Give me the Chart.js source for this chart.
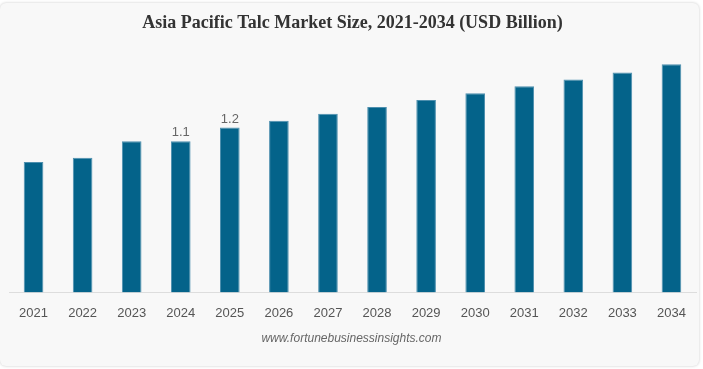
<!DOCTYPE html>
<html>
<head>
<meta charset="utf-8">
<script src="https://cdn.jsdelivr.net/npm/chart.js@4.4.1/dist/chart.umd.min.js"></script>
<style>
  html, body { margin: 0; padding: 0; background: #ffffff; width: 703px; height: 369px; overflow: hidden; }
  #card { position: absolute; left: 0; top: 3px; width: 699px; height: 363px; background: #f8f8f8;
          border-radius: 6px; box-shadow: 0 0 3px rgba(0,0,0,0.22); }
  #wrap { position: absolute; left: 0; top: 0; width: 703px; height: 369px; }
  #source { position: absolute; left: 0; width: 703px; top: 330px; text-align: center;
            font: italic 12px "Liberation Sans", Arial, sans-serif; color: #666666; line-height: 16px; }
</style>
</head>
<body>
<div id="card"></div>
<div id="wrap"><canvas id="c" width="703" height="369"></canvas></div>
<div id="source"></div>
<script>
const categories = ["2021","2022","2023","2024","2025","2026","2027","2028","2029","2030","2031","2032","2033","2034"];
const marketSize = [0.95, 0.98, 1.10, 1.10, 1.20, 1.25, 1.30, 1.35, 1.40, 1.45, 1.50, 1.55, 1.60, 1.66];
const valueLabels = ["", "", "", "1.1", "1.2", "", "", "", "", "", "", "", "", ""];
const titleText = "Asia Pacific Talc Market Size, 2021-2034 (USD Billion)";
const sourceText = "www.fortunebusinessinsights.com";

document.getElementById('source').textContent = sourceText;

const labelPlugin = {
  id: 'valueLabels',
  afterDatasetsDraw(chart) {
    const ctx = chart.ctx;
    const meta = chart.getDatasetMeta(0);
    ctx.save();
    ctx.font = '13px "Liberation Sans", Arial, sans-serif';
    ctx.fillStyle = '#666666';
    ctx.textAlign = 'center';
    ctx.textBaseline = 'bottom';
    meta.data.forEach((bar, i) => {
      const t = valueLabels[i];
      if (t) ctx.fillText(t, bar.x, bar.y - 2);
    });
    ctx.restore();
  }
};

new Chart(document.getElementById('c'), {
  type: 'bar',
  data: {
    labels: categories,
    datasets: [{
      data: marketSize,
      backgroundColor: '#04638A',
      borderColor: '#4d8fae',
      borderWidth: 1,
      barPercentage: 0.8,
      categoryPercentage: 0.5
    }]
  },
  options: {
    responsive: false,
    animation: false,
    layout: { padding: { left: 9, right: 7, top: 0, bottom: 43 } },
    plugins: {
      legend: { display: false },
      tooltip: { enabled: false },
      title: {
        display: true,
        text: titleText,
        color: '#333333',
        font: { family: '"Liberation Serif", "Times New Roman", serif', size: 18, weight: 'bold' },
        padding: { top: 12.5, bottom: 11 }
      }
    },
    scales: {
      x: {
        grid: { display: false },
        border: { display: true, color: '#dddddd', width: 1 },
        ticks: {
          color: '#555555',
          font: { family: '"Liberation Sans", Arial, sans-serif', size: 13 },
          padding: 5,
          maxRotation: 0,
          autoSkip: false
        }
      },
      y: {
        display: false,
        min: 0,
        max: 1.8
      }
    }
  },
  plugins: [labelPlugin]
});
</script>
</body>
</html>
